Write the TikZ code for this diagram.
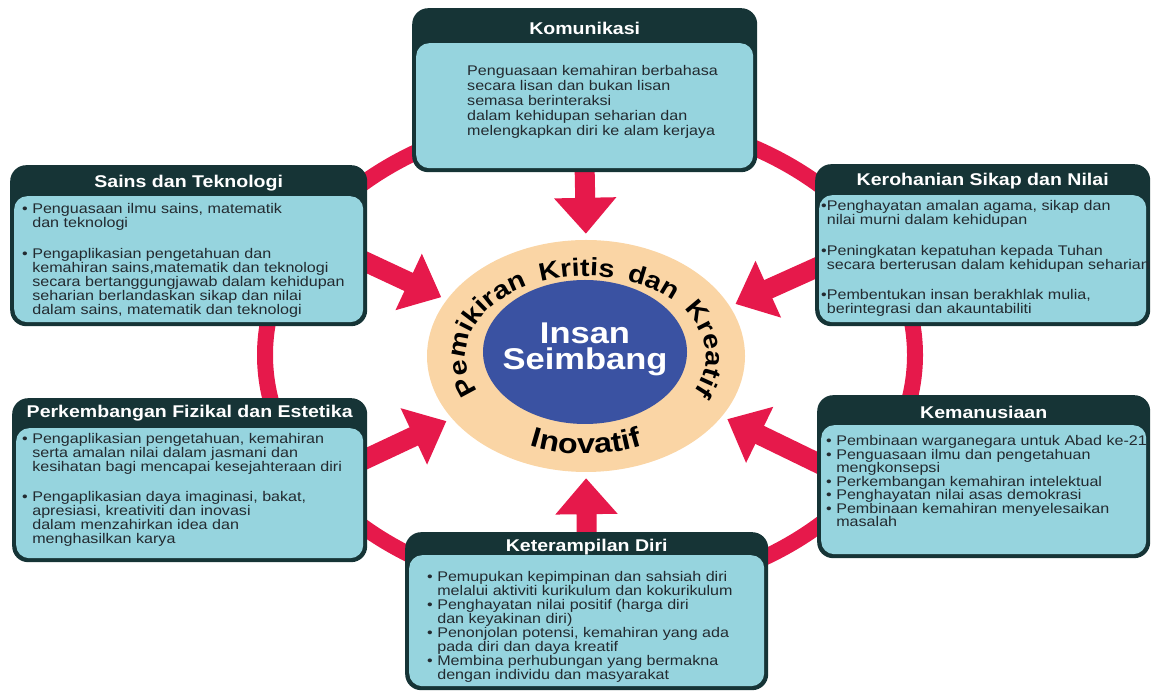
\documentclass[tikz,border=0pt]{standalone}
\usepackage{fontspec}
\setmainfont[FakeStretch=1.15]{Liberation Sans}
\usetikzlibrary{arrows.meta,shapes.geometric,decorations.text,backgrounds}
\definecolor{ringred}{RGB}{230,25,75}
\definecolor{boxdark}{RGB}{22,52,54}
\definecolor{boxlight}{RGB}{150,212,222}
\definecolor{peach}{RGB}{250,213,165}
\definecolor{royal}{RGB}{58,82,162}
\definecolor{ink}{RGB}{35,42,48}
\newcommand{\bul}{\textbullet\ }
\newcommand{\ind}{\hphantom{\textbullet\ }}
\newcommand{\bodyfont}{\fontsize{14}{14}\selectfont}
\newcommand{\titlefont}{\fontsize{17}{17}\selectfont\bfseries}
\newcommand{\corefont}{\fontsize{30}{26}\selectfont\bfseries}
\newcommand{\circfont}{\fontsize{25}{25}\selectfont\bfseries}
\newcommand{\inofont}{\fontsize{28}{28}\selectfont\bfseries}
\begin{document}
\begin{tikzpicture}[x=1pt,y=1pt,
  outerbox/.style={fill=boxdark, rounded corners=16pt, inner sep=0pt, anchor=north west},
  innerbox/.style={fill=boxlight, rounded corners=13pt, inner sep=0pt, anchor=south},
  boxtitle/.style={text=white, font=\titlefont, inner sep=0pt},
  boxtext/.style={text=ink, font=\bodyfont, align=left, anchor=north west, inner sep=0pt},
  ringline/.style={draw=ringred, line width=16pt},
  bigarrow/.style={-{Triangle[width=60pt,length=36pt]}, draw=ringred, fill=ringred, line width=20pt, shorten >=6pt, shorten <=-8pt}]
\useasboundingbox (0,0) rectangle (1153,692);

% red ring behind the boxes
\draw[ringline] (590,337) ellipse [x radius=325, y radius=240];

% Komunikasi
\node[outerbox, minimum width=345, minimum height=164] (kom) at (412,684) {};
\node[innerbox, minimum width=337, minimum height=125] (komIn) at ([yshift=4]kom.south) {};
\node[boxtitle] (komTitle) at ([yshift=-20]kom.north) {Komunikasi};
\node[boxtext, font=\fontsize{14}{15}\selectfont] (komText) at (467,626.5) {Penguasaan kemahiran berbahasa\\
  secara lisan dan bukan lisan\\
  semasa berinteraksi\\
  dalam kehidupan seharian dan\\
  melengkapkan diri ke alam kerjaya};

% Sains dan Teknologi
\node[outerbox, minimum width=357, minimum height=161] (sains) at (10,527) {};
\node[innerbox, minimum width=349, minimum height=126] (sainsIn) at ([yshift=4]sains.south) {};
\node[boxtitle] (sainsTitle) at ([yshift=-18]sains.north) {Sains dan Teknologi};
\node[boxtext] (sainsText) at (22,488.5) {\bul Penguasaan ilmu sains, matematik\\
  \ind dan teknologi\\[17pt]
  \bul Pengaplikasian pengetahuan dan\\
  \ind kemahiran sains,matematik dan teknologi\\
  \ind secara bertanggungjawab dalam kehidupan\\
  \ind seharian berlandaskan sikap dan nilai\\
  \ind dalam sains, matematik dan teknologi};

% Kerohanian Sikap dan Nilai
\node[outerbox, minimum width=335, minimum height=162] (kero) at (815,528) {};
\node[innerbox, minimum width=327, minimum height=127] (keroIn) at ([yshift=4]kero.south) {};
\node[boxtitle] (keroTitle) at ([yshift=-17]kero.north) {Kerohanian Sikap dan Nilai};
\node[boxtext, font=\fontsize{14}{13.5}\selectfont] (keroText) at (821,491.5) {\textbullet Penghayatan amalan agama, sikap dan\\
  \hphantom{\textbullet}nilai murni dalam kehidupan\\[18pt]
  \textbullet Peningkatan kepatuhan kepada Tuhan\\
  \hphantom{\textbullet}secara berterusan dalam kehidupan seharian\\[17pt]
  \textbullet Pembentukan insan berakhlak mulia,\\
  \hphantom{\textbullet}berintegrasi dan akauntabiliti};

% Perkembangan Fizikal dan Estetika
\node[outerbox, minimum width=355, minimum height=164] (perk) at (12,294) {};
\node[innerbox, minimum width=347, minimum height=130] (perkIn) at ([yshift=4]perk.south) {};
\node[boxtitle] (perkTitle) at ([yshift=-15]perk.north) {Perkembangan Fizikal dan Estetika};
\node[boxtext] (perkText) at (22,258.5) {\bul Pengaplikasian pengetahuan, kemahiran\\
  \ind serta amalan nilai dalam jasmani dan\\
  \ind kesihatan bagi mencapai kesejahteraan diri\\[16pt]
  \bul Pengaplikasian daya imaginasi, bakat,\\
  \ind apresiasi, kreativiti dan inovasi\\
  \ind dalam menzahirkan idea dan\\
  \ind menghasilkan karya};

% Kemanusiaan
\node[outerbox, minimum width=333, minimum height=163] (kem) at (817,297) {};
\node[innerbox, minimum width=325, minimum height=129] (kemIn) at ([yshift=4]kem.south) {};
\node[boxtitle] (kemTitle) at ([yshift=-17]kem.north) {Kemanusiaan};
\node[boxtext, font=\fontsize{14}{13.5}\selectfont] (kemText) at (826,256.5) {\bul Pembinaan warganegara untuk Abad ke-21\\
  \bul Penguasaan ilmu dan pengetahuan\\
  \ind mengkonsepsi\\
  \bul Perkembangan kemahiran intelektual\\
  \bul Penghayatan nilai asas demokrasi\\
  \bul Pembinaan kemahiran menyelesaikan\\
  \ind masalah};

% Keterampilan Diri
\node[outerbox, minimum width=363, minimum height=158] (ket) at (405,160) {};
\node[innerbox, minimum width=355, minimum height=131] (ketIn) at ([yshift=4]ket.south) {};
\node[boxtitle] (ketTitle) at ([yshift=-15]ket.north) {Keterampilan Diri};
\node[boxtext] (ketText) at (427,120.5) {\bul Pemupukan kepimpinan dan sahsiah diri\\
  \ind melalui aktiviti kurikulum dan kokurikulum\\
  \bul Penghayatan nilai positif (harga diri\\
  \ind dan keyakinan diri)\\
  \bul Penonjolan potensi, kemahiran yang ada\\
  \ind pada diri dan daya kreatif\\
  \bul Membina perhubungan yang bermakna\\
  \ind dengan individu dan masyarakat};

% centre
\node[ellipse, fill=peach, minimum width=318, minimum height=232, inner sep=0pt] (pk) at (586,336) {};
\node[ellipse, fill=royal, minimum width=204, minimum height=144, inner sep=0pt] (core) at (585,340) {};
\node[text=white, font=\corefont, align=center, inner sep=0pt] (coreText) at ([yshift=3]core.center) {Insan\\Seimbang};
\path[decorate, decoration={text along path, text={|\circfont|Pemikiran Kritis dan Kreatif}, text align={fit to path stretching spaces}}]
  (pk.center) ++(206:120 and 80) arc[start angle=206, end angle=-26, x radius=120, y radius=80];
\path[decorate, decoration={text along path, text={|\inofont|Inovatif}, text align=center}]
  (pk.center) ++(228:138 and 98) arc[start angle=228, end angle=312, x radius=138, y radius=98];

% arrows into the centre
\begin{scope}[on background layer]
\draw[bigarrow] (kom.south) -- (pk.90);
\draw[bigarrow] ([yshift=-17]sains.east) -- (pk.158);
\draw[bigarrow] ([yshift=-23]kero.west) -- (pk.19);
\draw[bigarrow] ([yshift=22]perk.east) -- (pk.205);
\draw[bigarrow] ([yshift=14]kem.west) -- (pk.336);
\draw[bigarrow] (ket.north) -- (pk.270);
\end{scope}

\end{tikzpicture}
\end{document}
